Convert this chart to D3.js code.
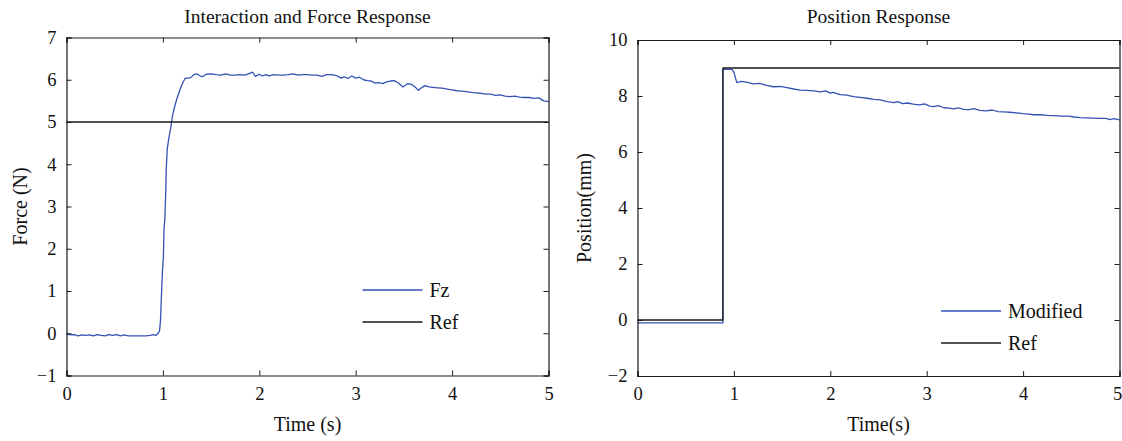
<!DOCTYPE html>
<html>
<head>
<meta charset="utf-8">
<script src="https://cdn.jsdelivr.net/npm/d3@7.9.0/dist/d3.min.js"></script>
<style>
  body { margin: 0; background: #fff; }
  svg text { font-family: "Liberation Serif", "DejaVu Serif", serif; fill: #111; }
</style>
</head>
<body>
<svg id="chart" width="1122" height="441"></svg>
<script>
// force panel
const fzTime = [0.00,0.05,0.08,0.12,0.16,0.20,0.24,0.28,0.32,0.36,0.40,0.44,0.48,0.52,0.56,0.60,0.64,0.70,0.76,0.82,0.87,0.90,0.93,0.95,
  0.965,0.975,0.985,0.995,1.005,1.012,1.02,1.03,1.035,1.045,1.06,1.08,1.10,1.12,1.145,1.175,1.20,1.23,1.26,1.29,1.32,1.35,1.38,1.41,1.45,
  1.50,1.55,1.60,1.65,1.70,1.75,1.80,1.85,1.90,1.93,1.96,2.00,2.03,2.07,2.10,2.15,2.20,2.25,2.30,2.35,2.40,2.45,2.50,2.55,2.60,2.65,
  2.70,2.75,2.80,2.85,2.88,2.92,2.96,3.00,3.04,3.08,3.12,3.16,3.20,3.24,3.28,3.32,3.36,3.40,3.44,3.49,3.54,3.58,3.62,3.65,3.69,3.72,
  3.76,3.80,3.85,3.90,3.95,4.00,4.05,4.10,4.15,4.20,4.25,4.30,4.35,4.40,4.45,4.50,4.55,4.60,4.65,4.70,4.75,4.80,4.85,4.90,4.95,5.00];
const fzValues = [-0.02,-0.04,-0.03,-0.06,-0.04,-0.05,-0.04,-0.06,-0.03,-0.05,-0.06,-0.03,-0.05,-0.03,-0.06,-0.04,-0.06,-0.06,-0.06,-0.06,-0.05,-0.03,-0.05,0.00,
  0.05,0.30,0.90,1.45,1.80,2.50,2.70,3.40,3.90,4.35,4.60,4.85,5.15,5.35,5.55,5.75,5.90,6.03,6.04,6.05,6.12,6.14,6.10,6.07,6.13,
  6.14,6.12,6.11,6.14,6.11,6.11,6.12,6.11,6.15,6.18,6.08,6.13,6.09,6.12,6.09,6.12,6.11,6.11,6.12,6.14,6.11,6.12,6.12,6.11,6.11,6.08,
  6.12,6.12,6.10,6.04,6.07,6.03,6.09,6.04,6.06,6.00,5.98,5.97,5.92,5.93,5.91,5.95,5.97,5.98,5.93,5.83,5.91,5.89,5.82,5.75,5.82,5.86,
  5.83,5.82,5.81,5.80,5.78,5.76,5.74,5.73,5.72,5.70,5.69,5.68,5.66,5.66,5.63,5.64,5.61,5.60,5.61,5.59,5.58,5.58,5.56,5.57,5.50,5.48];
const forceRefTime = [0, 5];
const forceRefValues = [5, 5];

// position panel
const posTime = [0.00,0.886,0.886,0.98,1.00,1.03,1.08,1.14,1.20,1.27,1.34,1.41,1.48,1.55,1.62,1.69,1.76,1.83,1.90,1.95,2.00,2.03,2.10,
  2.17,2.24,2.31,2.38,2.45,2.52,2.59,2.66,2.70,2.75,2.80,2.86,2.92,2.98,3.03,3.07,3.12,3.18,3.23,3.28,3.33,3.38,3.44,3.49,3.55,3.62,
  3.68,3.74,3.80,3.86,3.93,4.00,4.06,4.11,4.18,4.25,4.32,4.40,4.47,4.53,4.59,4.66,4.73,4.80,4.86,4.90,4.94,5.00];
const posValues = [-0.10,-0.10,8.95,8.95,8.85,8.48,8.52,8.49,8.43,8.45,8.38,8.33,8.34,8.30,8.25,8.21,8.20,8.18,8.15,8.18,8.10,8.13,8.05,
  8.03,7.98,7.95,7.92,7.88,7.86,7.80,7.76,7.80,7.73,7.75,7.71,7.68,7.72,7.64,7.62,7.66,7.58,7.57,7.54,7.58,7.52,7.51,7.55,7.49,7.47,
  7.50,7.44,7.43,7.42,7.40,7.37,7.35,7.33,7.33,7.31,7.30,7.28,7.28,7.25,7.23,7.22,7.21,7.20,7.20,7.16,7.19,7.15];
const posRefTime = [0, 0.886, 0.886, 5];
const posRefValues = [0, 0, 9, 9];

const xTicks = [0, 1, 2, 3, 4, 5];
const forceTicks = [-1, 0, 1, 2, 3, 4, 5, 6, 7];
const posTicks = [-2, 0, 2, 4, 6, 8, 10];

const BLUE = "#3452b4";
const BLACK = "#1a1a1a";

const svg = d3.select("#chart");
svg.append("rect").attr("width", 1122).attr("height", 441).attr("fill", "#fff");

function fmt(v) { return v < 0 ? "\u2212" + Math.abs(v) : String(v); }

function drawPanel(opt) {
  const g = svg.append("g");
  const x = d3.scaleLinear().domain([0, 5]).range([opt.left, opt.right]);
  const y = d3.scaleLinear().domain(opt.yDomain).range([opt.bottom, opt.top]);

  // lines
  const line = d3.line().x(d => x(d[0])).y(d => y(d[1]));
  opt.series.forEach(s => {
    g.append("path")
      .datum(d3.zip(s.t, s.v))
      .attr("d", line)
      .attr("fill", "none")
      .attr("stroke", s.color)
      .attr("stroke-width", 1.3)
      .attr("stroke-linejoin", "round");
  });

  // axes, ticks inside on all four sides
  const tl = 5;
  const bottomAxis = g.append("g").attr("transform", `translate(0,${opt.bottom})`)
    .call(d3.axisBottom(x).tickValues(xTicks).tickSize(-tl).tickPadding(11).tickFormat(fmt));
  g.append("g").attr("transform", `translate(0,${opt.top})`)
    .call(d3.axisTop(x).tickValues(xTicks).tickSize(-tl).tickFormat(""));
  g.append("g").attr("transform", `translate(${opt.left},0)`)
    .call(d3.axisLeft(y).tickValues(opt.yTicks).tickSize(-tl).tickPadding(10).tickFormat(fmt));
  g.append("g").attr("transform", `translate(${opt.right},0)`)
    .call(d3.axisRight(y).tickValues(opt.yTicks).tickSize(-tl).tickFormat(""));

  g.selectAll(".domain").attr("stroke", BLACK).attr("stroke-width", 1.2);
  g.selectAll(".tick line").attr("stroke", BLACK);
  g.selectAll(".tick text").attr("font-size", 18.5).attr("fill", "#111")
    .attr("font-family", "Liberation Serif, serif");
  // keep the last x label inside the page
  if (opt.lastShift) bottomAxis.selectAll(".tick text").filter(d => d === 5).attr("dx", opt.lastShift);

  const cx = (opt.left + opt.right) / 2;
  g.append("text").attr("x", cx).attr("y", 23).attr("text-anchor", "middle")
    .attr("font-size", 19.5).text(opt.title);
  g.append("text").attr("x", cx).attr("y", 431).attr("text-anchor", "middle")
    .attr("font-size", 20).text(opt.xLabel);
  g.append("text")
    .attr("transform", `translate(${opt.yLabelX},${(opt.top + opt.bottom) / 2}) rotate(-90)`)
    .attr("text-anchor", "middle").attr("font-size", 20).text(opt.yLabel);

  // legend
  opt.series.forEach((s, i) => {
    const ly = opt.legendY + i * opt.legendGap;
    g.append("line").attr("x1", opt.legendX).attr("x2", opt.legendX + 60)
      .attr("y1", ly).attr("y2", ly).attr("stroke", s.color).attr("stroke-width", 1.3);
    g.append("text").attr("x", opt.legendX + 67).attr("y", ly + 6.5)
      .attr("font-size", 20).text(s.name);
  });
}

drawPanel({
  left: 66.5, right: 548.5, top: 37.5, bottom: 375.5,
  yDomain: [-1, 7], yTicks: forceTicks,
  title: "Interaction and Force Response", xLabel: "Time (s)", yLabel: "Force (N)", yLabelX: 27,
  legendX: 362.5, legendY: 290, legendGap: 32,
  series: [
    { name: "Fz", t: fzTime, v: fzValues, color: BLUE },
    { name: "Ref", t: forceRefTime, v: forceRefValues, color: BLACK }
  ]
});

drawPanel({
  left: 637.5, right: 1119.5, top: 40, bottom: 376,
  yDomain: [-2, 10], yTicks: posTicks,
  title: "Position Response", xLabel: "Time(s)", yLabel: "Position(mm)", yLabelX: 591,
  legendX: 941, legendY: 311, legendGap: 32, lastShift: -2.5,
  series: [
    { name: "Modified", t: posTime, v: posValues, color: BLUE },
    { name: "Ref", t: posRefTime, v: posRefValues, color: BLACK }
  ]
});
</script>
</body>
</html>
